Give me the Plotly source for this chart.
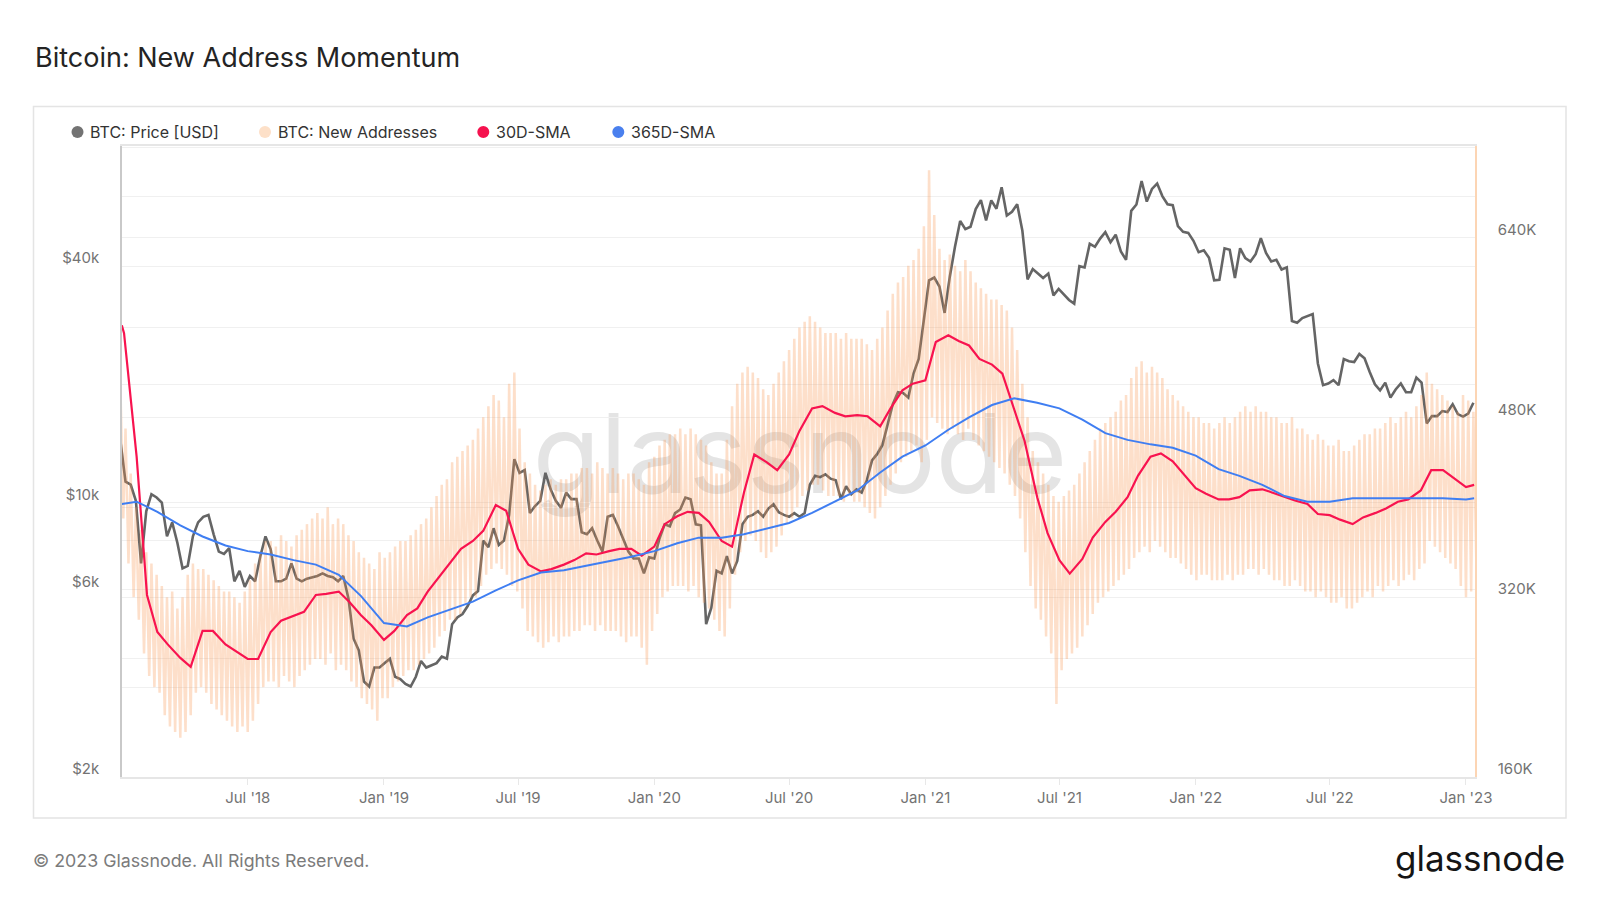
import math
import pandas as pd
import plotly.graph_objects as go

# ---------------- data ----------------
# weekly samples (Wednesdays) starting 2018-01-10
week_start = "2018-01-10"

btc_price_usd = [
    # 2018
    14400, 11300, 11100, 10100,
    7000, 9500, 10500, 10300,
    10000, 8200, 8900, 7900,
    6800, 6900, 8200, 8900,
    9200, 9300, 8300, 7500, 7400,
    7650, 6300, 6700, 6100,
    6500, 6300, 7300, 8200,
    7600, 6300, 6300, 6400, 7000,
    6400, 6300, 6400, 6450,
    6500, 6600, 6500, 6450, 6300,
    6500, 5700, 4500, 4200,
    3500, 3400, 3800, 3800,
    # 2019
    3900, 4000, 3600, 3550, 3450,
    3400, 3600, 3950, 3800,
    3850, 3900, 4050, 4000,
    4900, 5100, 5200, 5450,
    5800, 5950, 8000, 7700, 8600,
    7800, 8000, 9300, 12900,
    11900, 12100, 9400, 9800, 10100,
    11900, 10800, 10100, 9700,
    10600, 10200, 10200, 8400,
    8300, 8600, 8000, 7500, 9200,
    9300, 8700, 8100, 7500,
    7200, 7200, 6600, 7250,
    # 2020
    7200, 8100, 8800, 8700, 9400,
    9600, 10300, 10200, 8800,
    8750, 4900, 5400, 6700,
    6600, 7300, 6600, 7100, 8800,
    9200, 9300, 9500, 9200,
    9650, 9900, 9450, 9300,
    9200, 9400, 9200, 9400, 11100,
    11700, 11600, 11800, 11500,
    11400, 10200, 11000, 10500, 10800,
    10600, 11400, 12800, 13300,
    14000, 15700, 17800, 19100,
    19000, 18500, 21300, 23200, 28900,
    # 2021
    36800, 37400, 35500, 30400,
    37600, 44800, 52100, 49700,
    50400, 55900, 58900, 52300, 58800,
    56000, 63500, 53800, 55000,
    57500, 49200, 37000, 39300,
    38300, 37300, 38300, 33700, 35000,
    33900, 32800, 32100, 40000,
    39700, 45600, 44800, 47000,
    48800, 46000, 48100, 43600, 41500,
    55300, 57400, 65900, 58400,
    62900, 64900, 60300, 57500,
    57200, 50600, 48900, 48600, 46400,
    # 2022
    43400, 43900, 42000, 36800,
    36900, 44400, 44000, 37300,
    44400, 41900, 41100, 42900, 47100,
    43200, 41100, 41500, 39200,
    39700, 29000, 28700, 29500,
    29800, 30200, 22600, 19900, 20100,
    20500, 19900, 23200, 22900,
    22800, 23900, 23300, 21500, 20000,
    19300, 20200, 18500, 19400,
    20100, 19100, 19100, 20800,
    20200, 15900, 16600, 16600, 17100,
    17000, 17800, 16800, 16550,
    # 2023
    16850, 17950,
]

# new addresses (thousands): weekday high and weekend low of each week
new_addr_weekday_k = [
    # 2018
    510, 470, 430, 400,
    380, 360, 350, 340,
    330, 320, 325, 310,
    320, 340, 350, 345,
    345, 340, 335, 330, 325,
    325, 320, 315, 325,
    335, 350, 360, 370,
    370, 365, 375, 370, 365,
    375, 380, 385, 390,
    395, 390, 400, 385, 390,
    385, 375, 370, 360,
    355, 350, 345, 360,
    # 2019
    355, 360, 365, 370, 370,
    375, 380, 385, 390,
    400, 410, 420, 425,
    440, 445, 450, 455,
    460, 470, 480, 490, 500,
    495, 480, 510, 520,
    470, 440, 430, 420, 415,
    420, 425, 420, 425,
    425, 430, 430, 435,
    435, 430, 440, 435, 430,
    435, 430, 425, 430,
    430, 425, 420, 440,
    # 2020
    445, 455, 460, 465, 465,
    470, 465, 470, 465,
    460, 455, 440, 430,
    430, 460, 490, 510, 520,
    525, 520, 515, 505,
    500, 510, 520, 530,
    540, 550, 560, 565, 570,
    565, 560, 555, 555,
    555, 550, 555, 550, 550,
    550, 545, 540, 550,
    560, 575, 590, 600,
    605, 615, 620, 630, 650,
    # 2021
    700, 660, 630, 620,
    625, 615, 610, 620,
    610, 600, 595, 590, 585,
    585, 580, 575, 560,
    540, 510, 480, 450,
    440, 430, 420, 410, 405,
    410, 415, 420, 430,
    440, 450, 460, 470,
    475, 480, 485, 495, 500,
    515, 525, 530, 520,
    525, 520, 515, 505,
    500, 495, 490, 485, 480,
    # 2022
    480, 475, 475, 470,
    475, 480, 475, 480,
    485, 490, 485, 490, 485,
    485, 480, 480, 475,
    475, 480, 470, 470,
    465, 460, 465, 460, 455,
    455, 460, 450, 450,
    455, 460, 465, 465, 470,
    470, 475, 480, 475,
    480, 485, 480, 490,
    500, 520, 510, 505, 500,
    495, 490, 485, 500,
    # 2023
    495, 485,
]

new_addr_weekend_k = [
    # 2018
    390, 350, 320, 300,
    270, 250, 240, 235,
    215, 205, 200, 195,
    200, 215, 235, 240,
    235, 225, 220, 215, 210,
    205, 200, 205, 200,
    210, 225, 240, 245,
    245, 240, 250, 245, 240,
    250, 255, 260, 265,
    265, 260, 270, 255, 260,
    255, 245, 240, 230,
    225, 220, 210, 230,
    # 2019
    230, 240, 245, 250, 255,
    255, 260, 265, 270,
    275, 285, 290, 300,
    300, 305, 315, 320,
    320, 330, 340, 345, 350,
    345, 340, 330, 325,
    310, 290, 285, 280, 275,
    280, 285, 280, 285,
    285, 290, 290, 295,
    295, 290, 295, 290, 290,
    290, 285, 280, 285,
    285, 275, 260, 290,
    # 2020
    305, 320, 325, 330, 330,
    330, 325, 330, 320,
    315, 310, 300, 290,
    285, 310, 340, 360, 370,
    375, 370, 360, 355,
    360, 365, 375, 385,
    390, 400, 410, 415, 420,
    420, 415, 410, 410,
    410, 405, 410, 405, 405,
    400, 395, 390, 400,
    410, 420, 430, 440,
    445, 450, 455, 440, 460,
    # 2021
    480, 475, 470, 465,
    470, 465, 460, 470,
    460, 455, 450, 445, 440,
    435, 430, 420, 410,
    390, 360, 330, 310,
    300, 285, 270, 225, 255,
    265, 270, 275, 285,
    295, 305, 315, 320,
    325, 330, 335, 340, 345,
    355, 360, 365, 360,
    370, 365, 360, 355,
    355, 350, 345, 340, 335,
    # 2022
    340, 340, 335, 335,
    335, 340, 335, 340,
    340, 345, 345, 340, 345,
    340, 335, 335, 330,
    330, 335, 330, 325,
    325, 320, 325, 320, 315,
    315, 320, 310, 310,
    315, 320, 325, 320, 330,
    325, 330, 335, 330,
    335, 340, 335, 345,
    350, 370, 365, 360, 355,
    350, 345, 330, 320,
    # 2023
    325, 350,
]

# 30D-SMA (thousands), on the 1st and 15th of each month
sma30_k = [
    562, 555,
    445, 322, 289, 278, 266, 258, 290, 290, 278, 272, 265, 265,
    289, 299, 303, 307, 322, 323, 325, 316, 304, 295,
    282, 290, 304, 310, 325, 337, 352, 363, 370, 379, 402, 397,
    363, 349, 343, 345, 349, 353, 359, 358, 361, 363, 363, 357,
    365, 385, 392, 396, 395, 387, 370, 365, 413, 447, 440, 433,
    447, 468, 488, 490, 484, 481, 482, 481, 472, 488, 504, 510,
    513, 547, 553, 548, 544, 532, 527, 519, 487, 459, 409, 377,
    353, 341, 354, 373, 387, 396, 409, 428, 445, 448, 441, 430,
    417, 412, 407, 407, 409, 415, 416, 413, 409, 406, 403, 394,
    393, 389, 385, 391, 395, 399, 405, 407, 415, 433, 433, 426,
    418, 420,
]

# 365D-SMA (thousands), on the 1st of each month
sma365_k = [
    403,
    405, 396, 384, 374, 366, 361, 358, 353, 349, 340, 321,
    297, 294, 302, 309, 316, 326, 335, 342, 344, 348, 352, 356,
    361, 368, 373, 373, 376, 381, 386, 395, 405, 415, 431, 445,
    455, 469, 480, 491, 497, 493, 488, 478, 466, 460, 456, 453,
    446, 434, 428, 420, 410, 405, 405, 408, 408, 408, 408, 408,
    407, 408,
]

left_tickvals = [2000, 4000, 6000, 8000, 10000, 20000, 40000, 60000]
left_ticktext = ["$2k", "", "$6k", "", "$10k", "", "$40k", ""]
right_tickvals = [160, 240, 320, 400, 480, 560, 640, 720]
right_ticktext = ["160K", "", "320K", "", "480K", "", "640K", ""]

series_names = ["BTC: Price [USD]", "BTC: New Addresses", "30D-SMA", "365D-SMA"]
series_colors = ["#656565", "rgba(247,150,80,0.3)", "#f8134f", "#3f7ef2"]
legend_dot_colors = ["#737373", "#fde0c8", "#f5124e", "#4a80ee"]

# ---------------- dates ----------------
week_dates = pd.date_range(week_start, periods=len(btc_price_usd), freq="7D")
addr_x, addr_y = [], []
for d, hi, lo in zip(week_dates, new_addr_weekday_k, new_addr_weekend_k):
    addr_x += [d, d + pd.Timedelta(days=4)]
    addr_y += [hi, lo]

months = pd.date_range("2018-02-01", "2022-12-01", freq="MS")
sma30_dates = ["2018-01-12", "2018-01-15"]
for m in months:
    sma30_dates += [m.strftime("%Y-%m-01"), m.strftime("%Y-%m-15")]
sma30_dates += ["2023-01-01", "2023-01-12"]

sma365_dates = ["2018-01-12"] + [m.strftime("%Y-%m-%d") for m in pd.date_range("2018-02-01", "2023-01-01", freq="MS")] + ["2023-01-12"]

assert len(sma30_dates) == len(sma30_k), (len(sma30_dates), len(sma30_k))
assert len(sma365_dates) == len(sma365_k), (len(sma365_dates), len(sma365_k))
assert len(new_addr_weekday_k) == len(btc_price_usd) == len(new_addr_weekend_k)

# ---------------- figure ----------------
W, H = 1600, 900
ML, MR, MT, MB = 122, 125, 146, 123
PW, PH = W - ML - MR, H - MT - MB


def px(x):
    return (x - ML) / PW


def py(y):
    return (H - MB - y) / PH


FONT = "Inter, 'Noto Sans', sans-serif"

fig = go.Figure()
fig.add_trace(go.Scatter(x=week_dates, y=btc_price_usd, mode="lines", yaxis="y",
                         name=series_names[0], line=dict(color=series_colors[0], width=2.6)))
fig.add_trace(go.Scatter(x=addr_x, y=addr_y, mode="lines", yaxis="y2",
                         name=series_names[1], line=dict(color=series_colors[1], width=2.5)))
fig.add_trace(go.Scatter(x=sma30_dates, y=sma30_k, mode="lines", yaxis="y2",
                         name=series_names[2], line=dict(color=series_colors[2], width=2.2)))
fig.add_trace(go.Scatter(x=sma365_dates, y=sma365_k, mode="lines", yaxis="y2",
                         name=series_names[3], line=dict(color=series_colors[3], width=2)))

fig.update_layout(
    width=W, height=H, autosize=False,
    margin=dict(l=ML, r=MR, t=MT, b=MB, pad=0),
    paper_bgcolor="white", plot_bgcolor="rgba(0,0,0,0)",
    showlegend=False,
    font=dict(family=FONT, size=15, color="#737373"),
    xaxis=dict(type="date", range=["2018-01-12 06:00", "2023-01-13 04:00"],
               tick0="2018-07-01", dtick="M6", tickformat="%b '%y",
               ticks="outside", ticklen=6, tickcolor="#e8e8e8", tickwidth=1,
               showgrid=False, showline=True, linecolor="#e6e6e6", linewidth=1.5,
               mirror=True, zeroline=False, tickfont=dict(size=15, color="#737373")),
    yaxis=dict(type="log", range=[math.log10(2000), math.log10(80900)],
               tickvals=left_tickvals, ticktext=left_ticktext,
               showgrid=True, gridcolor="#f0f0f0", gridwidth=1,
               showline=True, linecolor="#c9c9c9", linewidth=1.5,
               ticks="", ticklabelstandoff=18, ticklabelshift=-8, zeroline=False,
               tickfont=dict(size=15, color="#737373")),
    yaxis2=dict(overlaying="y", side="right", range=[160, 721.5],
                tickvals=right_tickvals, ticktext=right_ticktext,
                showgrid=True, gridcolor="#f0f0f0", gridwidth=1,
                showline=True, linecolor="#fcd5b4", linewidth=1.5,
                ticks="", ticklabelstandoff=18, ticklabelshift=-8, zeroline=False,
                tickfont=dict(size=15, color="#737373")),
)

shapes = [
    # outer card border
    dict(type="rect", xref="paper", yref="paper", x0=px(33.5), x1=px(1566), y0=py(818), y1=py(106.5),
         line=dict(color="#e4e4e4", width=1.5), fillcolor="rgba(0,0,0,0)", layer="below"),
    # watermark
    dict(type="rect", xref="paper", yref="paper", x0=px(500), x1=px(1100), y0=py(520), y1=py(380),
         line=dict(width=0), fillcolor="rgba(0,0,0,0)", layer="below",
         label=dict(text="glassnode", textposition="middle center",
                    font=dict(family=FONT, size=110, color="#e4e4e4"))),
]

annotations = [
    dict(text="Bitcoin: New Address Momentum", xref="paper", yref="paper", x=px(32.5), y=py(57),
         xanchor="left", yanchor="middle", showarrow=False,
         font=dict(family=FONT, size=27, color="#242424")),
    dict(text="© 2023 Glassnode. All Rights Reserved.", xref="paper", yref="paper", x=px(31), y=py(860),
         xanchor="left", yanchor="middle", showarrow=False,
         font=dict(family=FONT, size=17.8, color="#7b7b7b")),
    dict(text="glassnode", xref="paper", yref="paper", x=px(1567), y=py(858),
         xanchor="right", yanchor="middle", showarrow=False,
         font=dict(family=FONT, size=35, color="#151515", weight=400)),
]

legend_marker_x = [77.5, 265, 483.3, 618.3]
for name, col, mx in zip(series_names, legend_dot_colors, legend_marker_x):
    shapes.append(dict(type="circle", xref="paper", yref="paper", xsizemode="pixel", ysizemode="pixel",
                       xanchor=px(mx), yanchor=py(132), x0=-6, x1=6, y0=-6, y1=6,
                       fillcolor=col, line=dict(width=0)))
    annotations.append(dict(text=name, xref="paper", yref="paper", x=px(mx + 10.5), y=py(132),
                            xanchor="left", yanchor="middle", showarrow=False,
                            font=dict(family=FONT, size=16, color="#333333")))

fig.update_layout(shapes=shapes, annotations=annotations)

fig.write_html("out.html", config={"displayModeBar": False},
               post_script="document.body.style.margin='0';")
